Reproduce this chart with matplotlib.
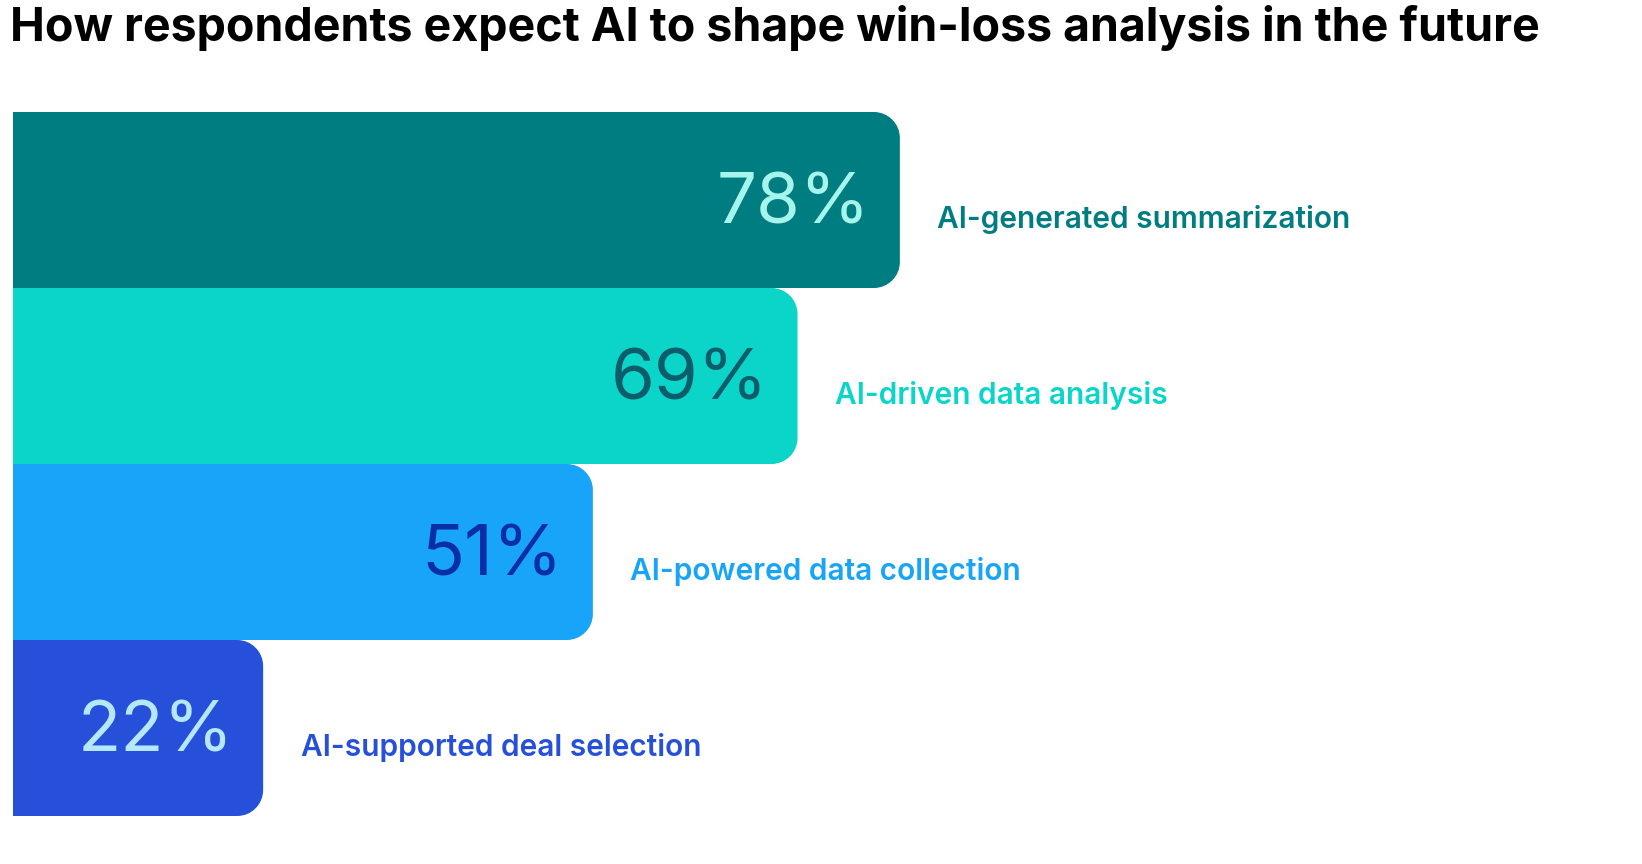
import matplotlib
matplotlib.use("Agg")
import matplotlib.pyplot as plt
from matplotlib.path import Path
from matplotlib.patches import PathPatch

categories = ["AI-generated summarization", "AI-driven data analysis",
              "AI-powered data collection", "AI-supported deal selection"]
values = [78, 69, 51, 22]
bar_colors = ["#007D80", "#0BD5C8", "#18A4F8", "#2650D9"]
pct_colors = ["#A6F5EC", "#0B5D6B", "#0A2EA8", "#B5E8FF"]
label_colors = ["#007D80", "#0BD5C8", "#18A4F8", "#2650D9"]

plt.rcParams['font.family'] = ['Inter', 'DejaVu Sans']
W, H = 1642, 864
fig = plt.figure(figsize=(W/100, H/100), dpi=100)
left_px, top_px, bot_px = 13, 112, 816
ax = fig.add_axes([left_px/W, (H-bot_px)/H, (W-left_px)/W, (bot_px-top_px)/H])
px_per_unit = 11.37
ax.set_xlim(0, (W-left_px)/px_per_unit)
ax.set_ylim(len(values), 0)
ax.axis('off')

r_px = 26
rx = r_px/px_per_unit
ry = r_px/((bot_px-top_px)/len(values))
k = 0.5523
for i, (v, c) in enumerate(zip(values, bar_colors)):
    y0, y1 = i, i+1
    verts = [(0, y0), (v-rx, y0),
             (v-rx+k*rx, y0), (v, y0+ry-k*ry), (v, y0+ry),
             (v, y1-ry),
             (v, y1-ry+k*ry), (v-rx+k*rx, y1), (v-rx, y1),
             (0, y1), (0, y0)]
    codes = [Path.MOVETO, Path.LINETO, Path.CURVE4, Path.CURVE4, Path.CURVE4,
             Path.LINETO, Path.CURVE4, Path.CURVE4, Path.CURVE4,
             Path.LINETO, Path.CLOSEPOLY]
    ax.add_patch(PathPatch(Path(verts, codes), facecolor=c, edgecolor='none'))
    ax.text(v-2.6, i+0.53, f"{v}%", ha='right', va='center', fontsize=51,
            fontweight='normal', color=pct_colors[i])
    ax.text(v+3.3, i+0.61, categories[i], ha='left', va='center', fontsize=21.5,
            fontweight='semibold', color=label_colors[i])

fig.text(10/W, 1-28/H, "How respondents expect AI to shape win-loss analysis in the future",
         ha='left', va='center', fontsize=33.5, fontweight='bold', color='black')
fig.savefig("out.png", dpi=100)
